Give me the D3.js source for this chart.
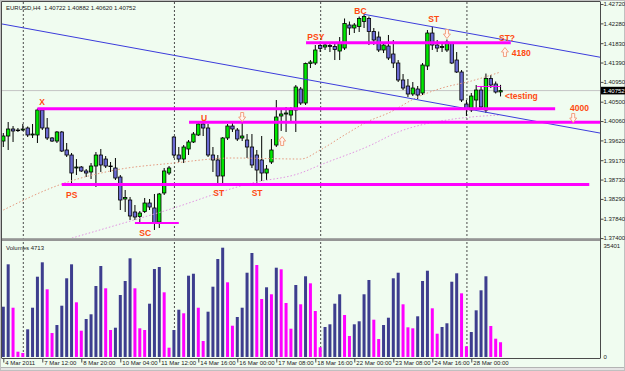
<!DOCTYPE html>
<html>
<head>
<meta charset="utf-8">
<script src="https://cdn.jsdelivr.net/npm/d3@7"></script>
<style>
  html, body { margin: 0; padding: 0; background: #f0fcf0; }
  svg { display: block; }
</style>
</head>
<body>
<svg id="chart" width="625" height="371"></svg>
<script>
// EURUSD H4, 4 Mar - 28 Mar 2011
const opens = [
  1.39606,1.39720,1.39879,1.39845,1.39856,1.39902,1.39743,1.39743,1.40311,1.39902,
  1.39675,1.39606,1.39811,1.39402,1.39288,1.38993,1.39015,1.38925,1.38902,1.39038,
  1.39288,1.39197,1.39038,1.38993,1.38788,1.38288,1.38265,1.37993,1.37890,1.38004,
  1.38197,1.38084,1.37765,1.38425,1.38879,1.39697,1.39288,1.39197,1.39425,1.39584,
  1.39743,1.39993,1.39902,1.39288,1.39175,1.38811,1.39675,1.39947,1.39856,1.39675,
  1.39629,1.39470,1.39288,1.39175,1.38879,1.39129,1.39515,1.40175,1.40220,1.40197,
  1.40311,1.40788,1.40470,1.41368,1.41379,1.41777,1.41743,1.41777,1.41754,1.41652,
  1.41720,1.42243,1.42175,1.42209,1.42322,1.42391,1.42095,1.41970,1.41675,1.41765,
  1.41584,1.41379,1.40993,1.40856,1.40675,1.40788,1.40697,1.41311,1.42061,1.41788,
  1.41731,1.41675,1.41834,1.41447,1.41175,1.40447,1.40311,1.40538,1.40765,1.40311,
  1.41027,1.40902,1.40722];
const highs = [
  1.39788,1.40038,1.39947,1.39902,1.39993,1.39936,1.39993,1.40345,1.40345,1.40129,
  1.39697,1.39834,1.39834,1.39561,1.39334,1.39197,1.39038,1.38970,1.39106,1.39356,
  1.39425,1.39265,1.39129,1.39220,1.38834,1.38493,1.38334,1.38152,1.38015,1.38311,
  1.38288,1.38402,1.38425,1.38993,1.39038,1.39720,1.39470,1.39515,1.39629,1.39811,
  1.40038,1.40050,1.39993,1.39470,1.39288,1.39697,1.39993,1.40038,1.39902,1.40015,
  1.39765,1.39765,1.39402,1.39720,1.39061,1.39652,1.40538,1.40356,1.40379,1.40379,
  1.40879,1.40834,1.41390,1.41447,1.41788,1.41868,1.41834,1.41856,1.41834,1.41970,
  1.42391,1.42322,1.42288,1.42436,1.42486,1.42436,1.42175,1.42095,1.41834,1.42016,
  1.41902,1.41447,1.41129,1.41015,1.40947,1.40856,1.41379,1.42129,1.42204,1.41902,
  1.41856,1.41913,1.41856,1.41629,1.41220,1.40538,1.40697,1.40879,1.40856,1.41140,
  1.41106,1.40959,1.40882];
const lows = [
  1.39470,1.39402,1.39584,1.39811,1.39834,1.39697,1.39675,1.39561,1.39856,1.39629,
  1.39584,1.39561,1.39356,1.39243,1.38606,1.38834,1.38902,1.38788,1.38743,1.38561,
  1.38902,1.38993,1.38902,1.38720,1.38038,1.37993,1.37811,1.37811,1.37743,1.37970,
  1.38038,1.37584,1.37629,1.38379,1.38834,1.39220,1.39129,1.39106,1.39288,1.39561,
  1.39720,1.39720,1.39243,1.38902,1.38606,1.38652,1.39629,1.39811,1.39606,1.39606,
  1.39220,1.38993,1.38629,1.38697,1.38720,1.39084,1.39470,1.39834,1.39811,1.40015,
  1.39811,1.40425,1.40425,1.41265,1.41334,1.41629,1.41675,1.41629,1.41447,1.41447,
  1.41675,1.42016,1.42061,1.42084,1.42175,1.41788,1.41788,1.41629,1.41606,1.41447,
  1.41265,1.40947,1.40765,1.40606,1.40629,1.40561,1.40652,1.41220,1.41675,1.41629,
  1.41629,1.41629,1.41356,1.41152,1.40493,1.40175,1.40265,1.40356,1.40311,1.40243,
  1.40811,1.40686,1.40620];
const closes = [
  1.39720,1.39879,1.39834,1.39856,1.39879,1.39743,1.39765,1.40311,1.39902,1.39675,
  1.39606,1.39811,1.39379,1.39288,1.38879,1.39015,1.38925,1.38879,1.39038,1.39288,
  1.39061,1.39038,1.39027,1.38765,1.38265,1.38322,1.37902,1.37879,1.37970,1.38197,
  1.38106,1.37743,1.38402,1.38925,1.38993,1.39288,1.39197,1.39470,1.39584,1.39765,
  1.39993,1.39902,1.39288,1.39175,1.38811,1.39675,1.39947,1.39879,1.39652,1.39720,
  1.39470,1.39061,1.38947,1.38879,1.38970,1.39402,1.40152,1.40220,1.40243,1.40311,
  1.40834,1.40470,1.41368,1.41402,1.41675,1.41709,1.41788,1.41754,1.41686,1.41822,
  1.42277,1.42175,1.42243,1.42391,1.42436,1.42095,1.41902,1.41675,1.41788,1.41493,
  1.41379,1.40993,1.40811,1.40675,1.40811,1.40652,1.41334,1.42061,1.41788,1.41720,
  1.41754,1.41856,1.41379,1.41175,1.40538,1.40334,1.40629,1.40765,1.40379,1.41027,
  1.40879,1.40720,1.40752];
const volumes = [
  16040,29560,15720,1690,1280,8830,15720,25610,30200,21590,
  7650,10200,16360,25100,29560,17440,8390,12120,13620,22640,
  29020,21910,8610,9340,19770,24240,31480,21910,9150,8610,
  17000,28060,28700,20630,2970,8610,15080,13940,25930,26560,
  15720,5100,14450,22420,31250,34860,23820,9980,12760,15720,
  26880,33170,29340,18500,22230,20000,28480,27970,17220,9030,
  22960,16810,25740,23500,14670,3090,9570,10430,17000,20000,
  13390,6700,10430,11390,20000,24560,11900,5740,10200,12530,
  25100,26880,16810,9470,9150,12980,24240,27520,15530,7430,
  9570,10750,24010,26690,20310,3410,7970,14890,21270,25740,
  9890,5840,4713];

// axis ticks
const priceTicks = [1.42720,1.42280,1.41830,1.41390,1.40950,1.40500,1.40060,1.39620,1.39170,1.38730,1.38290,1.37840,1.37400];
const volumeTicks = [35401, 0];
const timeBars = [0,8,16,24,32,40,48,56,64,72,80,88,96];
const timeLabels = ["4 Mar 2011","7 Mar 12:00","8 Mar 20:00","10 Mar 04:00","11 Mar 12:00","14 Mar 16:00",
  "16 Mar 00:00","17 Mar 08:00","18 Mar 16:00","22 Mar 00:00","23 Mar 08:00","24 Mar 16:00","28 Mar 00:00"];
const weekBars = [4, 35, 65, 95];

// moving averages (read at a few bars)
const maFastBars = [0,12,23,35,47,61,65,70,75,79,85,90,96,102];
const maFastVals = [1.38038,1.38629,1.38947,1.39106,1.39220,1.39197,1.39402,1.39743,1.40061,1.40243,1.40606,1.40811,1.40970,1.41175];
const maSlowBars = [12,24,33,51,61,65,75,81,91,96,102];
const maSlowVals = [1.37334,1.37720,1.38015,1.38652,1.38879,1.39061,1.39493,1.39811,1.40084,1.40152,1.40197];

// trend lines: two anchors each (bar, price)
const trendFromBar = [0, 74], trendFromPrice = [1.42261, 1.42486];
const trendToBar = [85, 88], trendToPrice = [1.40543, 1.42204];
const trendExtendLeft = [true, false];

// horizontal levels
const levelPrices = [1.40340, 1.40031, 1.41840, 1.38618, 1.37743, 1.40845];
const levelFrom = [7, 38.1, 62.1, 12, 27, 97.2];
const levelTo = [113.2, 122.4, 104.1, 120.2, 36, 102];

// annotations
const noteTexts = ["X","U","PSY","BC","ST","ST?","4180","<testing","4000","PS","SC","ST","ST"];
const noteBars = [7.36,40.55,62.36,72.0,87.18,101.68,104.29,102.9,116.25,12.86,27.9,43.08,50.95];
const notePrices = [1.40504,1.40129,1.41977,1.42568,1.42372,1.41941,1.41618,1.40629,1.40350,1.38379,1.37522,1.38431,1.38431];
const arrowDirs = ["down","up","down","up","down"];
const arrowBars = [49, 57.2, 91, 102.9, 116.9];
const arrowPrices = [1.40152, 1.39606, 1.42038, 1.41629, 1.40129];

const W = 625, H = 371;
const plotL = 2, plotR = 600, mainT = 2, mainB = 239, volB = 358;
const font = '"Liberation Sans", Arial, sans-serif';

const svg = d3.select('#chart');
const x = d3.scaleLinear().domain([-0.267, 122.4]).range([plotL, plotR]);
const y = d3.scaleLinear().domain([1.37379, 1.42766]).range([mainB, mainT]);
const yv = d3.scaleLinear().domain([0, 35401]).range([357, 246]);
const bars = d3.range(opens.length);
const last = bars.length - 1;

svg.append('rect').attr('width', W).attr('height', H).attr('fill', '#f0fcf0');
svg.append('rect').attr('x', 0).attr('y', 367).attr('width', W).attr('height', 4).attr('fill', '#e4e4e4');
svg.append('line').attr('x1', 0).attr('x2', W).attr('y1', 367.5).attr('y2', 367.5).attr('stroke', '#b4b4b4');

const defs = svg.append('defs');
defs.append('clipPath').attr('id', 'clipMain').append('rect')
  .attr('x', plotL).attr('y', mainT).attr('width', plotR - plotL).attr('height', mainB - mainT - 1);

// bid line
svg.append('line')
  .attr('x1', plotL).attr('x2', plotR)
  .attr('y1', y(closes[last])).attr('y2', y(closes[last]))
  .attr('stroke', '#c4c4c4');

// week separators
svg.append('g').selectAll('line').data(weekBars).join('line')
  .attr('x1', d => x(d) + 0.5).attr('x2', d => x(d) + 0.5)
  .attr('y1', mainT).attr('y2', volB)
  .attr('stroke', '#4a4a4a').attr('stroke-dasharray', '2,2');

const main = svg.append('g').attr('clip-path', 'url(#clipMain)');

// candles
const candle = main.append('g').selectAll('g').data(bars).join('g');
candle.append('line')
  .attr('x1', i => x(i)).attr('x2', i => x(i))
  .attr('y1', i => y(highs[i])).attr('y2', i => y(lows[i]))
  .attr('stroke', '#000').attr('stroke-width', 1);
candle.append('rect')
  .attr('x', i => x(i) - 1.7).attr('width', 3.4)
  .attr('y', i => y(Math.max(opens[i], closes[i])))
  .attr('height', i => Math.max(Math.abs(y(opens[i]) - y(closes[i])), 0.6))
  .attr('fill', i => closes[i] >= opens[i] ? '#00e800' : '#6a6ad2')
  .attr('stroke', '#000').attr('stroke-width', 0.8);

// moving averages
const maLine = d3.line().x(d => x(d[0])).y(d => y(d[1])).curve(d3.curveMonotoneX);
main.append('path').attr('d', maLine(maFastBars.map((b, i) => [b, maFastVals[i]])))
  .attr('fill', 'none').attr('stroke', '#e59a80').attr('stroke-width', 1).attr('stroke-dasharray', '1.5,2');
main.append('path').attr('d', maLine(maSlowBars.map((b, i) => [b, maSlowVals[i]])))
  .attr('fill', 'none').attr('stroke', '#e294e2').attr('stroke-width', 1).attr('stroke-dasharray', '1.5,2');

// channel lines
trendFromBar.forEach((b0, k) => {
  const slope = (trendToPrice[k] - trendFromPrice[k]) / (trendToBar[k] - b0);
  const bStart = trendExtendLeft[k] ? x.domain()[0] : b0;
  const bEnd = x.domain()[1];
  main.append('line')
    .attr('x1', x(bStart)).attr('y1', y(trendFromPrice[k] + slope * (bStart - b0)))
    .attr('x2', x(bEnd)).attr('y2', y(trendFromPrice[k] + slope * (bEnd - b0)))
    .attr('stroke', '#3c3cdc').attr('stroke-width', 1);
});

// horizontal levels
levelPrices.forEach((p, k) => {
  const thin = k === levelPrices.length - 1;
  main.append('line')
    .attr('x1', x(levelFrom[k])).attr('x2', x(levelTo[k]))
    .attr('y1', y(p)).attr('y2', y(p))
    .attr('stroke', '#ff00ff').attr('stroke-width', thin ? 1 : (k === 4 ? 2 : 3));
});

// wyckoff notes
main.append('g').selectAll('text').data(noteTexts).join('text')
  .attr('x', (d, i) => x(noteBars[i]))
  .attr('y', (d, i) => y(notePrices[i]) + 3)
  .attr('font-family', font).attr('font-size', 8.5).attr('font-weight', 'bold')
  .attr('fill', '#ff4a10')
  .text(d => d);

// hollow arrows
const arrowPath = (cx, cy, dir) => {
  const s = dir === 'down' ? 1 : -1;
  return `M${cx - 1.5},${cy - 4.5 * s} L${cx + 1.5},${cy - 4.5 * s} L${cx + 1.5},${cy} L${cx + 3.5},${cy}` +
    ` L${cx},${cy + 4.5 * s} L${cx - 3.5},${cy} L${cx - 1.5},${cy} Z`;
};
main.append('g').selectAll('path').data(arrowDirs).join('path')
  .attr('d', (d, i) => arrowPath(x(arrowBars[i]), y(arrowPrices[i]), d))
  .attr('fill', '#fff6f0').attr('stroke', '#f2a080').attr('stroke-width', 1);

// volumes
svg.append('g').selectAll('rect').data(bars).join('rect')
  .attr('x', i => x(i) - 1.5).attr('width', 3)
  .attr('y', i => yv(volumes[i]))
  .attr('height', i => yv(0) - yv(volumes[i]))
  .attr('fill', i => (i === 0 || volumes[i] > volumes[i - 1]) ? '#3d3d8e' : '#ff00ff');

// pane separator and borders
svg.append('rect').attr('x', plotL).attr('y', 238.2).attr('width', plotR - plotL).attr('height', 2.8).attr('fill', '#959595');
const border = svg.append('g').attr('stroke', '#4a4a4a').attr('stroke-width', 1);
border.append('line').attr('x1', 1.5).attr('x2', 1.5).attr('y1', 1.5).attr('y2', volB);
border.append('line').attr('x1', 1.5).attr('x2', plotR).attr('y1', 1.5).attr('y2', 1.5);
border.append('line').attr('x1', plotR + 0.5).attr('x2', plotR + 0.5).attr('y1', 1.5).attr('y2', volB);
border.append('line').attr('x1', 1.5).attr('x2', plotR + 0.5).attr('y1', volB + 0.5).attr('y2', volB + 0.5);
svg.append('rect').attr('x', 0.5).attr('y', 0.5).attr('width', W - 1).attr('height', H - 1)
  .attr('fill', 'none').attr('stroke', '#c0c0c0');

// price axis
const gy = svg.append('g').attr('transform', `translate(${plotR + 0.5},0)`)
  .call(d3.axisRight(y).tickValues(priceTicks).tickFormat(d3.format('.5f')).tickSize(3).tickPadding(0));
gy.select('.domain').remove();
gy.attr('font-family', font).attr('font-size', 6);
gy.selectAll('line').attr('stroke', '#4a4a4a');
gy.selectAll('text').attr('fill', '#222');

// current price box
const by = y(closes[last]);
svg.append('rect').attr('x', plotR + 1).attr('y', by - 3.8).attr('width', W - plotR - 1).attr('height', 7.6).attr('fill', '#000');
svg.append('text').attr('x', plotR + 3).attr('y', by + 2.2)
  .attr('font-family', font).attr('font-size', 6).attr('fill', '#fff')
  .text(d3.format('.5f')(closes[last]));

// volume axis
const gv = svg.append('g').attr('transform', `translate(${plotR + 0.5},0)`)
  .call(d3.axisRight(yv).tickValues(volumeTicks).tickFormat(d3.format('d')).tickSize(0).tickPadding(3));
gv.select('.domain').remove();
gv.attr('font-family', font).attr('font-size', 6);
gv.selectAll('text').attr('fill', '#222');

// time axis
const gx = svg.append('g').attr('transform', `translate(0,${volB + 0.5})`)
  .call(d3.axisBottom(x).tickValues(timeBars).tickFormat((d, i) => timeLabels[i]).tickSize(4));
gx.select('.domain').remove();
gx.attr('font-family', font).attr('font-size', 6);
gx.selectAll('line').attr('stroke', '#4a4a4a');
gx.selectAll('text').attr('text-anchor', 'start').attr('x', 1.5).attr('y', 2.5).attr('fill', '#222');

// titles
const f5 = d3.format('.5f');
svg.append('text').attr('x', 6).attr('y', 9.5)
  .attr('font-family', font).attr('font-size', 6).attr('fill', '#222')
  .attr('xml:space', 'preserve')
  .text(`EURUSD,H4  ${f5(opens[last])} ${f5(highs[last])} ${f5(lows[last])} ${f5(closes[last])}`);
svg.append('text').attr('x', 6).attr('y', 250)
  .attr('font-family', font).attr('font-size', 6).attr('fill', '#222')
  .text(`Volumes ${volumes[last]}`);
</script>
</body>
</html>
